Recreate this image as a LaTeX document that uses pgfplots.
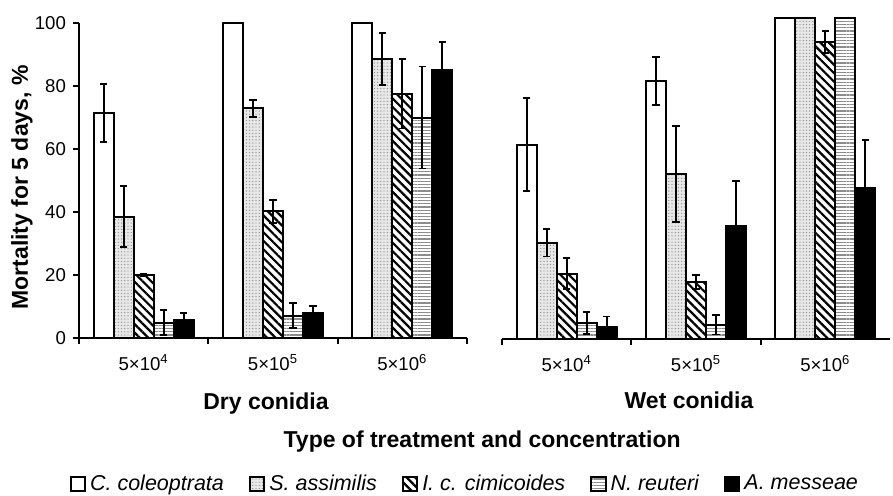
\documentclass[border=0pt]{standalone}
\usepackage{fontspec}
\setmainfont{Liberation Sans}
\usepackage{pgfplots}
\usepackage{pgfplotstable}
\pgfplotsset{compat=1.18}
\usetikzlibrary{patterns,patterns.meta}

\pgfplotstableread{
x C Ce S Se I Ie N Ne A Ae
0 71.5 9.2 38.5 9.7 19.9 0.4 4.9 4.0 5.7 2.3
1 100 0 72.9 2.7 40.2 3.6 7.1 4.0 8.0 2.2
2 100 0 88.5 8.3 77.5 11.0 70.0 16.2 85.0 9.0
}\dry
\pgfplotstableread{
x C Ce S Se I Ie N Ne A Ae
0 60.5 14.5 30.0 4.3 20.4 4.8 5.0 3.5 3.8 3.2
1 80.4 7.5 51.4 15.0 17.7 2.2 4.4 3.0 35.3 14.0
2 100 0 100 0 92.6 3.4 100 0 46.9 15.0
}\wet

\pgfplotsset{
  barC/.style={draw=black, fill=white, line width=1pt},
  barS/.style={draw=black, line width=1pt, preaction={fill=gray!18}, pattern={Dots[distance=1.6pt,radius=0.35pt]}, pattern color=gray!85},
  barI/.style={draw=black, line width=1pt, preaction={fill=white}, pattern={Lines[angle=-45,distance=3pt,line width=1.1pt]}, pattern color=black},
  barN/.style={draw=black, line width=1pt, preaction={fill=white}, pattern={Lines[angle=0,distance=1.6pt,line width=0.6pt]}, pattern color=gray!90},
  barA/.style={draw=black, fill=black, line width=1pt},
  eb/.style={error bars/.cd, y dir=both, y explicit,
    error bar style={line width=0.9pt, black},
    error mark options={rotate=90, mark size=1.8pt, line width=0.9pt, black}},
  panel/.style={
    scale only axis, width=194pt,
    ybar=0pt, bar width=10pt,
    xmin=-0.5, xmax=2.5, ymin=0, ymax=100,
    axis x line*=bottom,
    axis line style={line width=0.9pt, -},
    tick align=outside,
    major tick length=3pt,
    tick style={black, line width=0.9pt},
    xtick={-0.5,0.5,1.5,2.5}, xticklabels={},
    extra x ticks={0,1,2},
    extra x tick labels={5×10\textsuperscript{4},5×10\textsuperscript{5},5×10\textsuperscript{6}},
    extra x tick style={major tick length=0pt, tick style={draw=none}},
    xticklabel style={font=\fontsize{9.3}{11}\selectfont, yshift=-4.5pt},
    clip=false,
    /pgf/number format/assume math mode=true,
  },
}

\begin{document}
\begin{tikzpicture}
\useasboundingbox (0,0) rectangle (446.5pt,247.5pt);
\begin{axis}[panel,
  at={(39.5pt,78.5pt)}, anchor=south west, height=157.5pt,
  axis y line*=left,
  ytick={0,20,40,60,80,100},
  yticklabel style={font=\fontsize{9.3}{11}\selectfont},
  ylabel={Mortality for 5 days, \%},
  ylabel style={at={(axis description cs:-0.147,0.478)}, anchor=center, font=\bfseries\fontsize{11.5}{13}\selectfont},
  xlabel={Dry conidia},
  xlabel style={at={(axis description cs:0.482,-0.2254)}, anchor=base, font=\bfseries\fontsize{11.5}{13}\selectfont},
  legend columns=5,
  legend image code/.code={\draw[#1, line width=1pt] (0pt,-3.6pt) rectangle (7.2pt,3.6pt);},
  legend style={at={(axis description cs:0.997,-0.4635)}, anchor=center, draw=none,
    font=\itshape\fontsize{10.75}{13}\selectfont,
    /tikz/every even column/.append style={column sep=10.5pt}},
]
\addplot[barC, eb] table[x=x, y=C, y error=Ce] {\dry};
\addplot[barS, eb] table[x=x, y=S, y error=Se] {\dry};
\addplot[barI, eb] table[x=x, y=I, y error=Ie] {\dry};
\addplot[barN, eb] table[x=x, y=N, y error=Ne] {\dry};
\addplot[barA, eb] table[x=x, y=A, y error=Ae] {\dry};
\legend{C. coleoptrata, S. assimilis, I. c. cimicoides, N. reuteri, A. messeae}
\node[font=\bfseries\fontsize{11.5}{13}\selectfont, anchor=center] at (axis description cs:1.039,-0.330) {Type of treatment and concentration};
\end{axis}
\begin{axis}[panel,
  at={(251pt,78pt)}, anchor=south west, height=160.5pt,
  axis y line=none,
  xtick={-0.5,0.5,1.5}, 
  xlabel={Wet conidia},
  xlabel style={at={(axis description cs:0.482,-0.218)}, anchor=base, font=\bfseries\fontsize{11.5}{13}\selectfont},
]
\addplot[barC, eb] table[x=x, y=C, y error=Ce] {\wet};
\addplot[barS, eb] table[x=x, y=S, y error=Se] {\wet};
\addplot[barI, eb] table[x=x, y=I, y error=Ie] {\wet};
\addplot[barN, eb] table[x=x, y=N, y error=Ne] {\wet};
\addplot[barA, eb] table[x=x, y=A, y error=Ae] {\wet};
\end{axis}
\end{tikzpicture}
\end{document}
